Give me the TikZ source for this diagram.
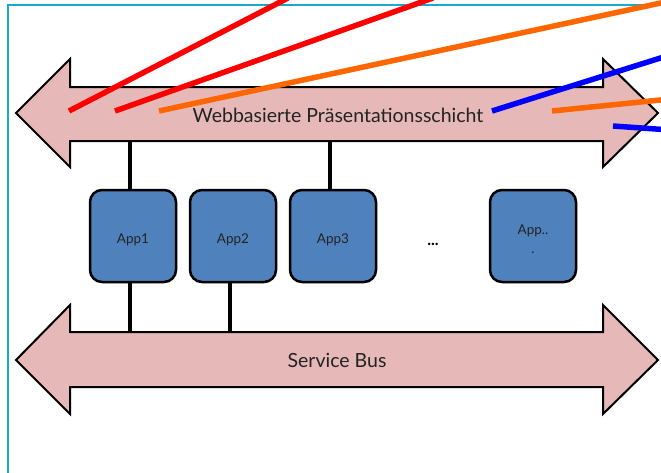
\documentclass[tikz,border=0pt]{standalone}
\usepackage{fontspec}
\setmainfont{Lato}
\definecolor{framecyan}{RGB}{26,168,204}
\definecolor{barfill}{RGB}{230,184,183}
\definecolor{appfill}{RGB}{79,129,189}
\definecolor{txt}{RGB}{35,35,35}
\definecolor{linkred}{RGB}{255,0,0}
\definecolor{linkorange}{RGB}{255,102,0}
\definecolor{linkblue}{RGB}{0,0,255}
% place a label with its baseline a given distance below the box centre
\newcommand{\applabel}[2]{\raisebox{#1}[0pt][0pt]{#2}}
\begin{document}
\begin{tikzpicture}[x=1pt,y=-1pt,
  bar/.style={draw=black,line width=2pt,fill=barfill,line join=miter},
  barlabel/.style={text=txt,font=\fontsize{19.5}{22}\selectfont,inner sep=0pt},
  appbox/.style={draw=black,line width=2.5pt,fill=appfill,rounded corners=12pt,
    minimum width=86pt,minimum height=92pt,inner sep=0pt,text=txt,
    font=\fontsize{13.5}{16}\selectfont,align=center},
  bond/.style={line width=4pt,black},
  link/.style={line width=5.5pt}]
\useasboundingbox (0,0) rectangle (661,472);
\clip (0,0) rectangle (661,472);

% outer frame
\draw[framecyan,line width=2pt] (8,5) rectangle (680,490);

% presentation layer bar
\draw[bar] (16,113) -- (70,59) -- (70,87) -- (603,87) -- (603,59) -- (658,113)
  -- (603,167) -- (603,141) -- (70,141) -- (70,167) -- cycle;
\node[barlabel] (web) at (338,115) {Webbasierte Präsentationsschicht};
\coordinate (webbottom) at (338,141);

% service bus bar
\draw[bar] (16,360) -- (70,305) -- (70,332) -- (603,332) -- (603,305) -- (658,360)
  -- (603,414) -- (603,387) -- (70,387) -- (70,414) -- cycle;
\node[barlabel] (bus) at (337,360) {Service Bus};
\coordinate (bustop) at (337,332);

% applications
\node[appbox] (app1) at (133,236) {\applabel{-7pt}{App1}};
\node[appbox] (app2) at (233,236) {\applabel{-7pt}{App2}};
\node[appbox] (app3) at (333,236) {\applabel{-7pt}{App3}};
\node[appbox] (app4) at (533,236)
  {\applabel{1.5pt}{\begin{tabular}[t]{@{}c@{}}App..\\[2.5pt].\end{tabular}}};
\node[text=black,font=\bfseries\fontsize{16}{18}\selectfont] (dots) at (433,244) {...};

% attachments to the bars
\draw[bond] ([xshift=-3pt]app1.north) -- ([xshift=-3pt]app1.north |- webbottom);
\draw[bond] ([xshift=-3pt]app3.north) -- ([xshift=-3pt]app3.north |- webbottom);
\draw[bond] ([xshift=-3pt]app1.south) -- ([xshift=-3pt]app1.south |- bustop);
\draw[bond] ([xshift=-3pt]app2.south) -- ([xshift=-3pt]app2.south |- bustop);

% access lines into the presentation layer
\coordinate (r1a) at (69,111);  \coordinate (r1b) at (288,-2);
\coordinate (r2a) at (115,111); \coordinate (r2b) at (433,-2);
\coordinate (o1a) at (159,111); \coordinate (o1b) at (670,1);
\coordinate (b1a) at (492,111); \coordinate (b1b) at (670,55);
\coordinate (o2a) at (552,111); \coordinate (o2b) at (670,99);
\coordinate (b2a) at (613,126); \coordinate (b2b) at (670,130);
\draw[link,linkred] (r1a) -- (r1b);
\draw[link,linkred] (r2a) -- (r2b);
\draw[link,linkorange] (o1a) -- (o1b);
\draw[link,linkblue] (b1a) -- (b1b);
\draw[link,linkorange] (o2a) -- (o2b);
\draw[link,linkblue] (b2a) -- (b2b);
\end{tikzpicture}
\end{document}
